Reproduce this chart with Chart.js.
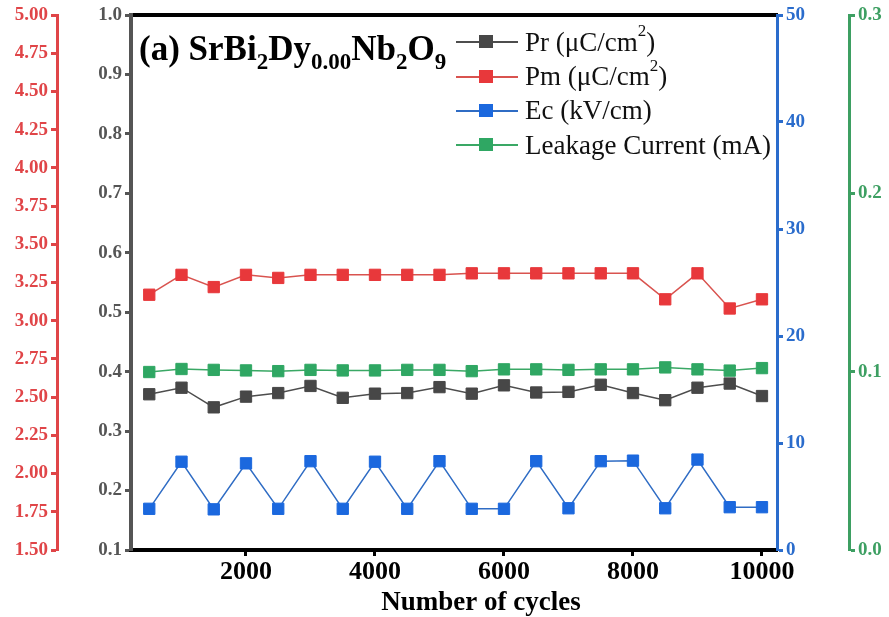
<!DOCTYPE html>
<html>
<head>
<meta charset="utf-8">
<script src="https://cdn.jsdelivr.net/npm/chart.js@4.4.0/dist/chart.umd.min.js"></script>
<style>
body { margin: 0; background: #fff; }
#wrap { position: relative; width: 889px; height: 617px; }
#title { position: absolute; left: 139px; top: 31px; font: bold 35px/1 "Liberation Serif"; color: #000; white-space: nowrap; }
#title sub { font-size: 23px; position: relative; top: 9px; vertical-align: baseline; line-height: 0; }
#legend { position: absolute; left: 456px; top: 25px; font: 27px "Liberation Serif"; color: #111; }
.row { height: 34.4px; display: flex; align-items: center; white-space: nowrap; }
.row sup { font-size: 17px; position: relative; top: -11px; vertical-align: baseline; line-height: 0; }
.key { position: relative; width: 62px; height: 14px; margin-right: 7px; }
.key i { position: absolute; left: 0; right: 0; top: 6px; height: 2px; }
.key b { position: absolute; left: 23px; top: 0; width: 14px; height: 13px; }
</style>
</head>
<body>
<div id="wrap">
  <canvas id="chart" width="889" height="617"></canvas>
  <div id="title">(a) SrBi<sub>2</sub>Dy<sub>0.00</sub>Nb<sub>2</sub>O<sub>9</sub></div>
  <div id="legend"></div>
</div>
<script>
let cycles = [500, 1000, 1500, 2000, 2500, 3000, 3500, 4000, 4500, 5000,
              5500, 6000, 6500, 7000, 7500, 8000, 8500, 9000, 9500, 10000]

let pr = [0.362, 0.373, 0.340, 0.358, 0.364, 0.376, 0.356, 0.363, 0.364, 0.374,
          0.363, 0.377, 0.365, 0.366, 0.378, 0.364, 0.352, 0.373, 0.380, 0.359]

let pm = [3.17, 3.30, 3.22, 3.30, 3.28, 3.30, 3.30, 3.30, 3.30, 3.30,
          3.31, 3.31, 3.31, 3.31, 3.31, 3.31, 3.14, 3.31, 3.08, 3.14]

let ec = [3.85, 8.25, 3.8, 8.1, 3.85, 8.3, 3.85, 8.25, 3.85, 8.3,
          3.85, 3.85, 8.3, 3.9, 8.3, 8.35, 3.9, 8.45, 4.0, 4.0]

let leakage = [0.0998, 0.1015, 0.101, 0.1007, 0.1003, 0.101, 0.1007, 0.1007, 0.101, 0.101,
               0.1003, 0.1013, 0.1013, 0.101, 0.1013, 0.1013, 0.1024, 0.1013, 0.1006, 0.102]

let xTicks = [2000, 4000, 6000, 8000, 10000]

let names = ["Pr (\u03bcC/cm<sup>2</sup>)", "Pm (\u03bcC/cm<sup>2</sup>)", "Ec (kV/cm)", "Leakage Current (mA)"]
let lineColors = ["#4d4d4d", "#d9534f", "#2f6cc4", "#3aa865"]
let pointColors = ["#474747", "#e8383b", "#1b68de", "#2fa763"]

function pts(arr) {
    return cycles.map((c, i) => ({ x: c, y: arr[i] }))
}

function makeSet(label, arr, axis, i) {
    return {
        label: label,
        data: pts(arr),
        yAxisID: axis,
        borderColor: lineColors[i],
        borderWidth: 1.5,
        pointStyle: "rect",
        pointRadius: 8,
        pointBackgroundColor: pointColors[i],
        pointBorderColor: pointColors[i],
        pointBorderWidth: 1
    }
}

function yAxis(pos, weight, min, max, step, digits, color, width, lineW) {
    return {
        type: "linear",
        position: pos,
        weight: weight,
        min: min,
        max: max,
        ticks: {
            stepSize: step,
            color: color,
            padding: 3,
            font: { family: "Liberation Serif", size: 19, weight: "bold" },
            callback: v => v.toFixed(digits)
        },
        grid: { drawOnChartArea: false, tickLength: 6, tickWidth: 3, tickColor: color },
        border: { color: color, width: lineW },
        afterFit: s => { s.width = width }
    }
}

let serif = "Liberation Serif"

new Chart(document.getElementById("chart"), {
    type: "line",
    data: {
        datasets: [
            makeSet("Pr", pr, "yPr", 0),
            makeSet("Pm", pm, "yPm", 1),
            makeSet("Ec", ec, "yEc", 2),
            makeSet("Leakage Current", leakage, "yLeak", 3)
        ]
    },
    options: {
        responsive: false,
        animation: false,
        devicePixelRatio: 1,
        layout: { padding: { top: 15, bottom: 0, left: 0, right: 0 } },
        plugins: { legend: { display: false }, tooltip: { enabled: false } },
        scales: {
            x: {
                type: "linear",
                position: "bottom",
                min: 217,
                max: 10233,
                afterBuildTicks: s => { s.ticks = xTicks.map(v => ({ value: v })) },
                ticks: {
                    color: "#000",
                    padding: 3,
                    font: { family: serif, size: 26, weight: "bold", lineHeight: 1 },
                    callback: v => String(v)
                },
                grid: { drawOnChartArea: false, tickLength: 6, tickWidth: 3, tickColor: "#000" },
                border: { color: "#000", width: 4 },
                title: {
                    display: true,
                    // leading spaces push the title right, as in the original figure
                    text: "        Number of cycles",
                    color: "#000",
                    padding: { top: 2, bottom: 0 },
                    font: { family: serif, size: 27, weight: "bold", lineHeight: 1 }
                }
            },
            xTop: {
                type: "linear",
                position: "top",
                min: 217,
                max: 10233,
                ticks: { display: false },
                grid: { drawOnChartArea: false, drawTicks: false },
                border: { color: "#000", width: 4 }
            },
            yPr: yAxis("left", 1, 0.1, 1.0, 0.1, 1, "#555555", 74, 4),
            yPm: yAxis("left", 2, 1.5, 5.0, 0.25, 2, "#e04548", 57, 3),
            yEc: yAxis("right", 1, 0, 50, 10, 0, "#2a6ccc", 72, 3),
            yLeak: yAxis("right", 2, 0, 0.3, 0.1, 1, "#3d9f62", 40, 3)
        }
    }
})

let legend = document.getElementById("legend")
for (let i = 0; i < names.length; i++) {
    legend.innerHTML += "<div class='row'><span class='key'><i style='background:" + lineColors[i] +
        "'></i><b style='background:" + pointColors[i] + "'></b></span>" + names[i] + "</div>"
}
</script>
</body>
</html>
